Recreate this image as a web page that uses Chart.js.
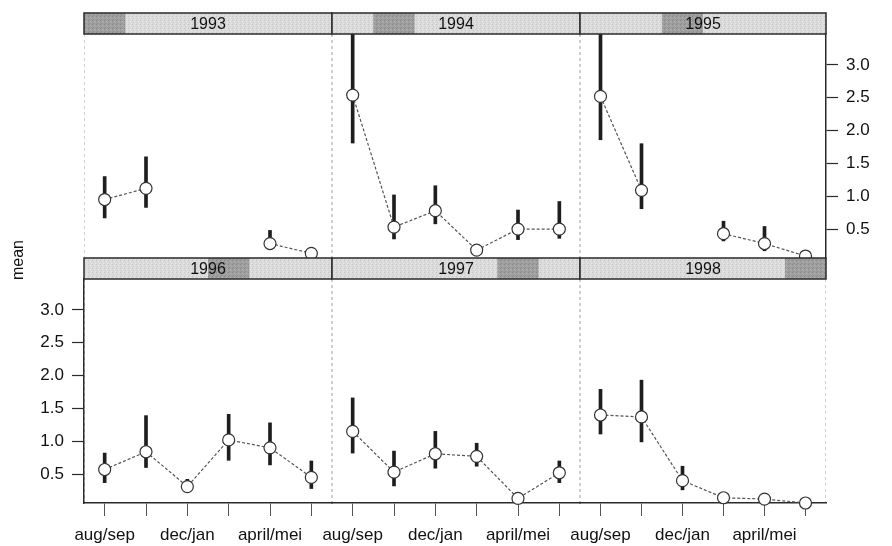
<!DOCTYPE html>
<html>
<head>
<meta charset="utf-8">
<title>mean per period, 1993-1998</title>
<script src="https://cdn.jsdelivr.net/npm/chart.js@4.4.1/dist/chart.umd.min.js"></script>
<style>
  body { margin: 0; background: #fff; }
  #wrap { position: relative; width: 892px; height: 546px; }
  #wrap canvas { position: absolute; left: 0; top: 0; }
</style>
</head>
<body>
<div id="wrap"></div>
<script>
const periods = ['aug/sep', 'okt/nov', 'dec/jan', 'feb/mrt', 'april/mei', 'juni/juli'];
const years = ['1993', '1994', '1995', '1996', '1997', '1998'];
const yTicks = [0.5, 1.0, 1.5, 2.0, 2.5, 3.0];

// mean per period and the interval drawn around it
const mean1993 = [0.95, 1.12, null, null, 0.28, 0.13];
const ci1993 = [[0.67, 1.30], [0.83, 1.60], null, null, [0.20, 0.48], [0.08, 0.18]];
const mean1994 = [2.54, 0.53, 0.78, 0.18, 0.50, 0.50];
const ci1994 = [[1.81, 3.60], [0.35, 1.02], [0.58, 1.16], [0.12, 0.24], [0.34, 0.79], [0.36, 0.92]];
const mean1995 = [2.52, 1.09, null, 0.43, 0.28, 0.09];
const ci1995 = [[1.86, 3.60], [0.81, 1.80], null, [0.32, 0.62], [0.17, 0.54], [0.05, 0.12]];
const mean1996 = [0.57, 0.84, 0.31, 1.02, 0.90, 0.45];
const ci1996 = [[0.37, 0.82], [0.60, 1.39], [0.24, 0.42], [0.71, 1.41], [0.64, 1.28], [0.28, 0.70]];
const mean1997 = [1.15, 0.53, 0.81, 0.77, 0.13, 0.52];
const ci1997 = [[0.82, 1.66], [0.32, 0.85], [0.59, 1.15], [0.62, 0.97], [0.08, 0.18], [0.37, 0.70]];
const mean1998 = [1.40, 1.37, 0.40, 0.14, 0.12, 0.06];
const ci1998 = [[1.11, 1.79], [0.99, 1.93], [0.26, 0.62], [0.09, 0.20], [0.08, 0.16], [0.03, 0.09]];

const means = [mean1993, mean1994, mean1995, mean1996, mean1997, mean1998];
const intervals = [ci1993, ci1994, ci1995, ci1996, ci1997, ci1998];

// page layout (pixels)
const W = 892, H = 546;
const colEdges = [84, 332, 580, 826];
const rowEdges = [[34, 258], [279, 503]];
const STRIP_H = 21;
const Y_MIN = 0.06, Y_MAX = 3.47;
const Y_AXIS_W = 60, X_AXIS_H = 40;
const FONT = '"Liberation Sans", Arial, sans-serif';
const INK = '#111';

// small speckled tiles for the strip shading
function tile(base, dots) {
  const c = document.createElement('canvas');
  c.width = c.height = 4;
  const g = c.getContext('2d');
  g.fillStyle = base;
  g.fillRect(0, 0, 4, 4);
  dots.forEach(([x, y, col]) => { g.fillStyle = col; g.fillRect(x, y, 1, 1); });
  return c;
}
const lightTile = tile('#dadada', [[0, 0, '#c6c6c6'], [2, 1, '#eaeaea'], [1, 2, '#cfcfcf'], [3, 3, '#e6e6e6']]);
const darkTile = tile('#9e9e9e', [[0, 0, '#888'], [2, 1, '#b2b2b2'], [1, 3, '#8f8f8f'], [3, 2, '#a9a9a9']]);

const stripPlugin = {
  id: 'strip',
  beforeDraw(chart) {
    // faint dotted panel sides
    const { ctx, chartArea: a } = chart;
    ctx.save();
    ctx.strokeStyle = '#cfcfcf';
    ctx.lineWidth = 1;
    ctx.setLineDash([3, 3]);
    ctx.beginPath();
    ctx.moveTo(a.left + 0.5, a.top); ctx.lineTo(a.left + 0.5, a.bottom);
    ctx.moveTo(a.right - 0.5, a.top); ctx.lineTo(a.right - 0.5, a.bottom);
    ctx.stroke();
    ctx.restore();
  },
  afterDraw(chart, args, opts) {
    const { ctx, chartArea: a } = chart;
    const top = a.top - STRIP_H;
    const w = a.right - a.left;
    const seg = w / years.length;
    ctx.save();
    ctx.fillStyle = ctx.createPattern(lightTile, 'repeat');
    ctx.fillRect(a.left, top, w, STRIP_H);
    ctx.fillStyle = ctx.createPattern(darkTile, 'repeat');
    ctx.fillRect(a.left + opts.index * seg, top, seg, STRIP_H);
    ctx.strokeStyle = '#2a2a2a';
    ctx.lineWidth = 1.5;
    ctx.strokeRect(a.left, top, w, STRIP_H);
    ctx.fillStyle = INK;
    ctx.font = '16px ' + FONT;
    ctx.textAlign = 'center';
    ctx.textBaseline = 'middle';
    ctx.fillText(opts.label, (a.left + a.right) / 2, top + STRIP_H / 2 + 1);
    ctx.restore();
  }
};

const meanLabel = {
  id: 'meanLabel',
  afterDraw(chart) {
    const ctx = chart.ctx;
    ctx.save();
    ctx.translate(19, 260);
    ctx.rotate(-Math.PI / 2);
    ctx.fillStyle = INK;
    ctx.font = '16px ' + FONT;
    ctx.textAlign = 'center';
    ctx.textBaseline = 'middle';
    ctx.fillText('mean', 0, 0);
    ctx.restore();
  }
};

const wrap = document.getElementById('wrap');

years.forEach((year, i) => {
  const col = i % 3, row = Math.floor(i / 3);
  const [left, right] = [colEdges[col], colEdges[col + 1]];
  const [top, bottom] = rowEdges[row];
  const showX = row === 1;
  const yPos = (row === 1 && col === 0) ? 'left' : (row === 0 && col === 2) ? 'right' : null;

  const canvas = document.createElement('canvas');
  canvas.width = W;
  canvas.height = H;
  wrap.appendChild(canvas);

  new Chart(canvas, {
    type: 'bar',
    data: {
      labels: periods,
      datasets: [{
        type: 'line',
        data: means[i],
        order: 1,
        borderColor: '#555',
        borderWidth: 1.2,
        borderDash: [3, 2],
        spanGaps: false,
        pointRadius: 6,
        pointBackgroundColor: '#fff',
        pointBorderColor: '#333',
        pointBorderWidth: 1.2,
        clip: row === 1 ? false : undefined
      }, {
        type: 'bar',
        data: intervals[i],
        order: 2,
        grouped: false,
        barThickness: 3,
        backgroundColor: '#1e1e1e',
        borderWidth: 0,
        borderSkipped: false
      }]
    },
    options: {
      responsive: false,
      animation: false,
      events: [],
      layout: {
        padding: {
          left: left - (yPos === 'left' ? Y_AXIS_W : 0),
          right: W - right - (yPos === 'right' ? Y_AXIS_W : 0),
          top: top,
          bottom: H - bottom - (showX ? X_AXIS_H : 0)
        }
      },
      scales: {
        x: {
          display: showX,
          offset: true,
          grid: { offset: false, drawOnChartArea: false, tickLength: 13, tickColor: '#555', tickWidth: 1 },
          border: { display: true, color: '#2a2a2a', width: 1.5 },
          ticks: {
            autoSkip: false,
            maxRotation: 0,
            padding: 9,
            color: INK,
            font: { family: FONT, size: 17 },
            callback: (v, idx) => idx % 2 === 0 ? periods[idx] : ''
          },
          afterFit: s => {
            if (!showX) return;
            s.height = X_AXIS_H;
            s.paddingLeft = 0;
            s.paddingRight = 0;
          }
        },
        y: {
          display: yPos !== null,
          position: yPos || 'left',
          min: Y_MIN,
          max: Y_MAX,
          grid: { drawOnChartArea: false, tickLength: 12, tickColor: '#2a2a2a', tickWidth: 1.2 },
          border: { display: true, color: '#2a2a2a', width: 1.5 },
          ticks: {
            padding: 8,
            color: INK,
            font: { family: FONT, size: 17 },
            callback: v => Number(v).toFixed(1)
          },
          afterBuildTicks: s => { s.ticks = yTicks.map(v => ({ value: v })); },
          afterFit: s => {
            if (yPos === null) return;
            s.width = Y_AXIS_W;
            s.paddingTop = 0;
            s.paddingBottom = 0;
          }
        }
      },
      plugins: {
        legend: { display: false },
        tooltip: { enabled: false },
        strip: { index: i, label: year }
      }
    },
    plugins: row === 1 && col === 0 ? [stripPlugin, meanLabel] : [stripPlugin]
  });
});
</script>
</body>
</html>
